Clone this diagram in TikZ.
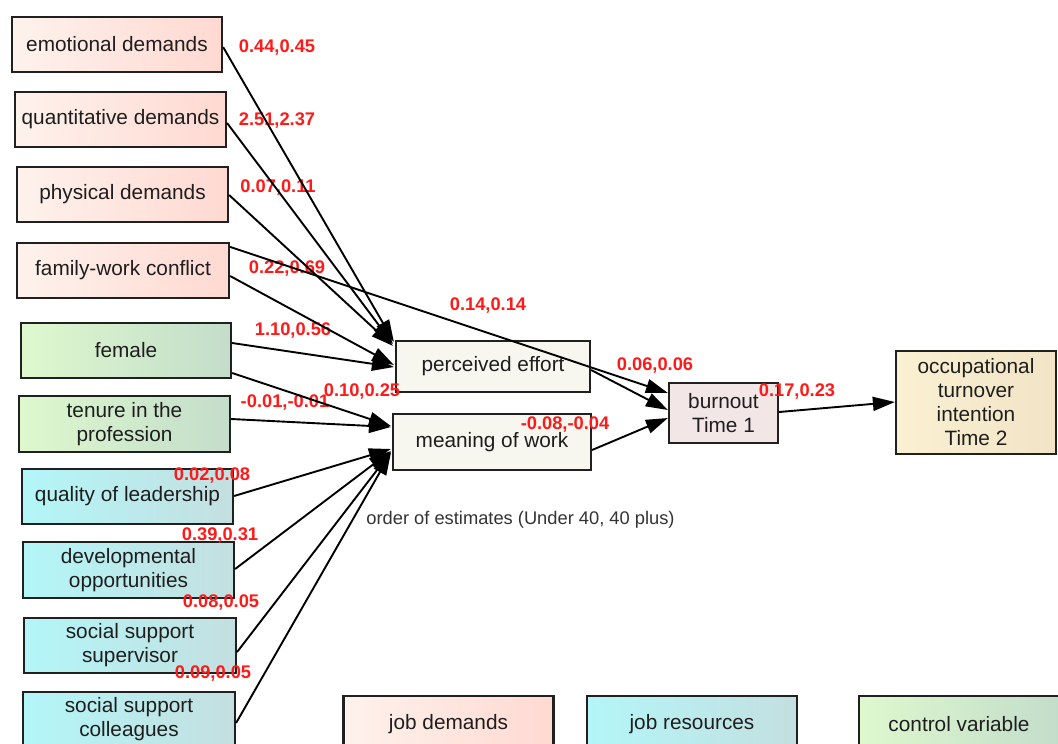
\documentclass[tikz,border=0pt]{standalone}
\usepackage{fontspec}
\setmainfont{Liberation Sans}
\usetikzlibrary{arrows.meta,calc}
\definecolor{dL}{HTML}{FEF2EC}
\definecolor{dR}{HTML}{FFD9D2}
\definecolor{rL}{HTML}{B3F6F8}
\definecolor{rR}{HTML}{C4DFE0}
\definecolor{cL}{HTML}{DEF8CE}
\definecolor{cR}{HTML}{C3DDCB}
\definecolor{medfill}{HTML}{F7F7F0}
\definecolor{bofill}{HTML}{F3E6E6}
\definecolor{occL}{HTML}{FAF0D2}
\definecolor{occR}{HTML}{F2E4C6}
\definecolor{boxline}{HTML}{202020}
\definecolor{txt}{HTML}{1E1E1E}
\definecolor{lblred}{HTML}{FF1A1A}
\definecolor{notegray}{HTML}{333333}
\begin{document}
\begin{tikzpicture}[x=1pt,y=-1pt,
  box/.style={draw=boxline,line width=2.2pt,minimum height=55pt,inner sep=2pt,
    align=center,font=\fontsize{20.8}{24}\selectfont,text=txt},
  dem/.style={box,left color=dL,right color=dR,minimum width=210pt},
  res/.style={box,left color=rL,right color=rR,minimum width=211pt},
  ctl/.style={box,left color=cL,right color=cR,minimum width=210pt},
  med/.style={box,fill=medfill},
  lbl/.style={text=lblred,font=\bfseries\fontsize{18.3}{20}\selectfont,inner sep=0pt},
  arr/.style={line width=1.9pt,draw=black,-{Triangle[length=22pt,width=14pt]}}
]
\clip (0,0) rectangle (1058,744);
\fill[white] (0,0) rectangle (1058,744);

% job demands
\node[dem] (emo) at (117,44.5) {emotional demands};
\node[dem,minimum width=211pt] (quant) at (120.5,119.5) {quantitative demands};
\node[dem,minimum width=211pt] (phys) at (122.5,194.5) {physical demands};
\node[dem,minimum width=212pt] (fam) at (123,270.5) {family-work conflict};
% controls
\node[ctl] (female) at (126,350.5) {female};
\node[ctl,minimum width=211pt,minimum height=56pt] (tenure) at (124.5,424) {tenure in the\\profession};
% resources
\node[res] (quality) at (127.5,496.5) {quality of leadership};
\node[res,minimum height=56pt] (dev) at (128.5,570) {developmental\\opportunities};
\node[res,minimum width=212pt] (sup) at (130,645.5) {social support\\supervisor};
\node[res,minimum width=212pt] (col) at (129,719.5) {social support\\colleagues};
% mediators / outcomes
\node[med,minimum width=194pt,minimum height=51pt] (pe) at (493,366.5) {perceived effort};
\node[med,minimum width=198pt,minimum height=56pt] (mw) at (492,442) {meaning of work};
\node[box,fill=bofill,minimum width=109pt,minimum height=60pt] (bo) at (723.5,413) {burnout\\Time 1};
\node[box,left color=occL,right color=occR,minimum width=160pt,minimum height=103pt] (occ) at (976,402.5) {occupational\\turnover\\intention\\Time 2};
% legend
\node[dem,minimum height=56pt] (lgd) at (448.5,724) {job demands};
\node[res,minimum width=210pt,minimum height=56pt] (lgr) at (692,724) {job resources};
\node[ctl,minimum width=200pt,minimum height=56pt] (lgc) at (959,724) {control variable};

% note
\node[text=notegray,font=\fontsize{18.3}{21}\selectfont,inner sep=0pt] (note) at (520.5,520) {order of estimates (Under 40, 40 plus)};

% labels
\node[lbl] (l1) at (277,48) {0.44,0.45};
\node[lbl] (l2) at (277,121) {2.51,2.37};
\node[lbl] (l3) at (278,188) {0.07,0.11};
\node[lbl] (l4) at (287,269) {0.22,0.69};
\node[lbl] (l5) at (293,331) {1.10,0.56};
\node[lbl] (l6) at (362,392) {0.10,0.25};
\node[lbl] (l7) at (285,403) {-0.01,-0.01};
\node[lbl] (l8) at (212,476) {0.02,0.08};
\node[lbl] (l9) at (220,536) {0.39,0.31};
\node[lbl] (l10) at (221,603) {0.08,0.05};
\node[lbl] (l11) at (213,674) {0.09,0.05};
\node[lbl] (l12) at (488,306) {0.14,0.14};
\node[lbl] (l13) at (655,366) {0.06,0.06};
\node[lbl] (l14) at (797,392) {0.17,0.23};
\node[lbl] (l15) at (565,425) {-0.08,-0.04};

% connectors
\draw[arr] ($(emo.east)+(0,2.5)$) -- ($(pe.north west)+(-1,2)$);
\draw[arr] ($(quant.east)+(0,3.5)$) -- ($(pe.north west)+(-2,4)$);
\draw[arr] ($(phys.east)+(0,0.5)$) -- ($(pe.north west)+(-2,6)$);
\draw[arr] ($(fam.east)+(0,5.5)$) -- ($(pe.west)+(-1,-1.5)$);
\draw[arr] ($(fam.north east)+(0,5)$) -- ($(bo.west)+(0,-20)$);
\draw[arr] ($(female.east)+(0,-7.5)$) -- ($(pe.west)+(-1,0.5)$);
\draw[arr] ($(female.east)+(0,22.5)$) -- ($(mw.west)+(-1,-16)$);
\draw[arr] ($(tenure.east)+(0,-5)$) -- ($(mw.west)+(-1,-15)$);
\draw[arr] ($(quality.east)+(0,-0.5)$) -- ($(mw.west)+(-1,7)$);
\draw[arr] ($(dev.east)+(0,-1)$) -- ($(mw.west)+(-1,9)$);
\draw[arr] ($(sup.east)+(0,6.5)$) -- ($(mw.west)+(-1,10)$);
\draw[arr] ($(col.east)+(0,3.5)$) -- ($(mw.west)+(-1,11)$);
\draw[arr] ($(pe.east)+(0,3.5)$) -- ($(bo.west)+(0,-3)$);
\draw[arr] ($(mw.east)+(0,8)$) -- ($(bo.west)+(0,5)$);
\draw[arr] ($(bo.east)+(0,-1)$) -- ($(occ.west)+(0,-0.5)$);
\end{tikzpicture}
\end{document}
